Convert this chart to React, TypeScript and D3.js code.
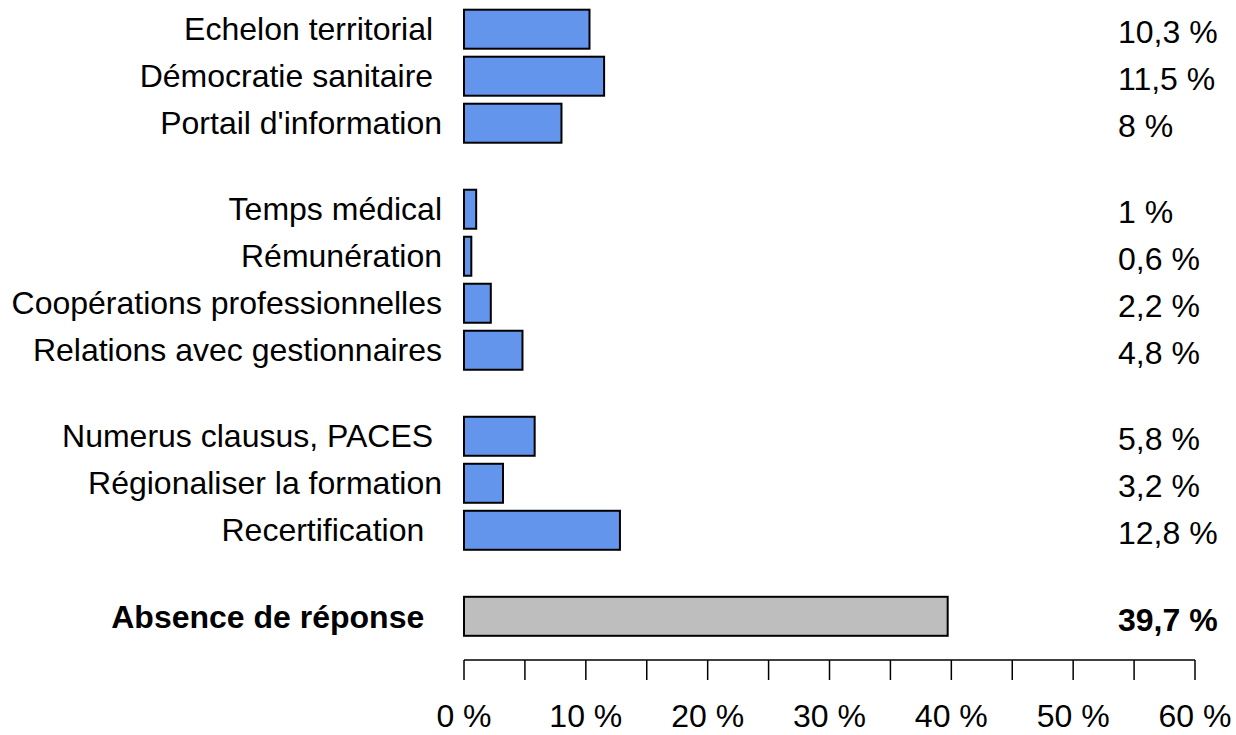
import { useEffect, useRef } from "react";
import * as d3 from "d3";

// categories (trailing spaces kept as in the original labels)
const categories = [
  "Echelon territorial ",
  "Démocratie sanitaire ",
  "Portail d'information",
  "Temps médical",
  "Rémunération",
  "Coopérations professionnelles",
  "Relations avec gestionnaires",
  "Numerus clausus, PACES ",
  "Régionaliser la formation",
  "Recertification  ",
  "Absence de réponse  ",
];
const values = [10.3, 11.5, 8, 1, 0.6, 2.2, 4.8, 5.8, 3.2, 12.8, 39.7];
const groups = [0, 0, 0, 1, 1, 1, 1, 2, 2, 2, 3];
const xTicks = [0, 10, 20, 30, 40, 50, 60];
const xMinorTicks = [0, 5, 10, 15, 20, 25, 30, 35, 40, 45, 50, 55, 60];

const W = 1236;
const H = 735;
const FONT = "'Liberation Sans', Arial, sans-serif";
const GROUP_GAP = 0.83;

const fmt = (v: number) => String(v).replace(".", ",") + " %";

export default function App() {
  const ref = useRef<SVGSVGElement | null>(null);

  useEffect(() => {
    if (!ref.current) return;
    const svg = d3.select(ref.current);
    svg.selectAll("*").remove();

    const pos = categories.map((_, i) => i + groups[i] * GROUP_GAP);
    const lastPos = pos[pos.length - 1];

    const x = d3.scaleLinear().domain([0, 60]).range([464, 1195]);
    const y = d3.scaleLinear().domain([0, lastPos]).range([29.2, 616.3]);
    const barH = 39;
    const isLast = (i: number) => i === categories.length - 1;

    // bars
    svg
      .append("g")
      .selectAll("rect")
      .data(values)
      .enter()
      .append("rect")
      .attr("x", x(0))
      .attr("y", (d, i) => y(pos[i]) - barH / 2)
      .attr("width", (d) => x(d) - x(0))
      .attr("height", barH)
      .attr("fill", (d, i) => (isLast(i) ? "#BEBEBE" : "#6495ED"))
      .attr("stroke", "#000")
      .attr("stroke-width", 2);

    // category labels
    svg
      .append("g")
      .selectAll("text")
      .data(categories)
      .enter()
      .append("text")
      .attr("x", 442)
      .attr("y", (d, i) => y(pos[i]))
      .attr("dy", "0.35em")
      .attr("text-anchor", "end")
      .attr("xml:space", "preserve")
      .style("white-space", "pre")
      .style("font-family", FONT)
      .style("font-size", "32px")
      .style("font-weight", (d, i) => (isLast(i) ? "bold" : "normal"))
      .text((d) => d);

    // value labels
    svg
      .append("g")
      .selectAll("text")
      .data(values)
      .enter()
      .append("text")
      .attr("x", 1118)
      .attr("y", (d, i) => y(pos[i]) + 3)
      .attr("dy", "0.35em")
      .style("font-family", FONT)
      .style("font-size", "32px")
      .style("font-weight", (d, i) => (isLast(i) ? "bold" : "normal"))
      .text((d) => fmt(d));

    // x axis
    const axisY = 660;
    const ax = svg.append("g");
    ax.append("line")
      .attr("x1", x(0))
      .attr("x2", x(60))
      .attr("y1", axisY)
      .attr("y2", axisY)
      .attr("stroke", "#000")
      .attr("stroke-width", 1.5);
    ax.selectAll("line.tick")
      .data(xMinorTicks)
      .enter()
      .append("line")
      .attr("class", "tick")
      .attr("x1", (d) => x(d))
      .attr("x2", (d) => x(d))
      .attr("y1", axisY)
      .attr("y2", axisY + 20)
      .attr("stroke", "#000")
      .attr("stroke-width", 1.5);
    ax.selectAll("text")
      .data(xTicks)
      .enter()
      .append("text")
      .attr("x", (d) => x(d))
      .attr("y", 727)
      .attr("text-anchor", "middle")
      .style("font-family", FONT)
      .style("font-size", "32px")
      .text((d) => d + " %");
  }, []);

  return (
    <svg
      ref={ref}
      width={W}
      height={H}
      style={{ position: "absolute", left: 0, top: 0, background: "#fff" }}
    />
  );
}
